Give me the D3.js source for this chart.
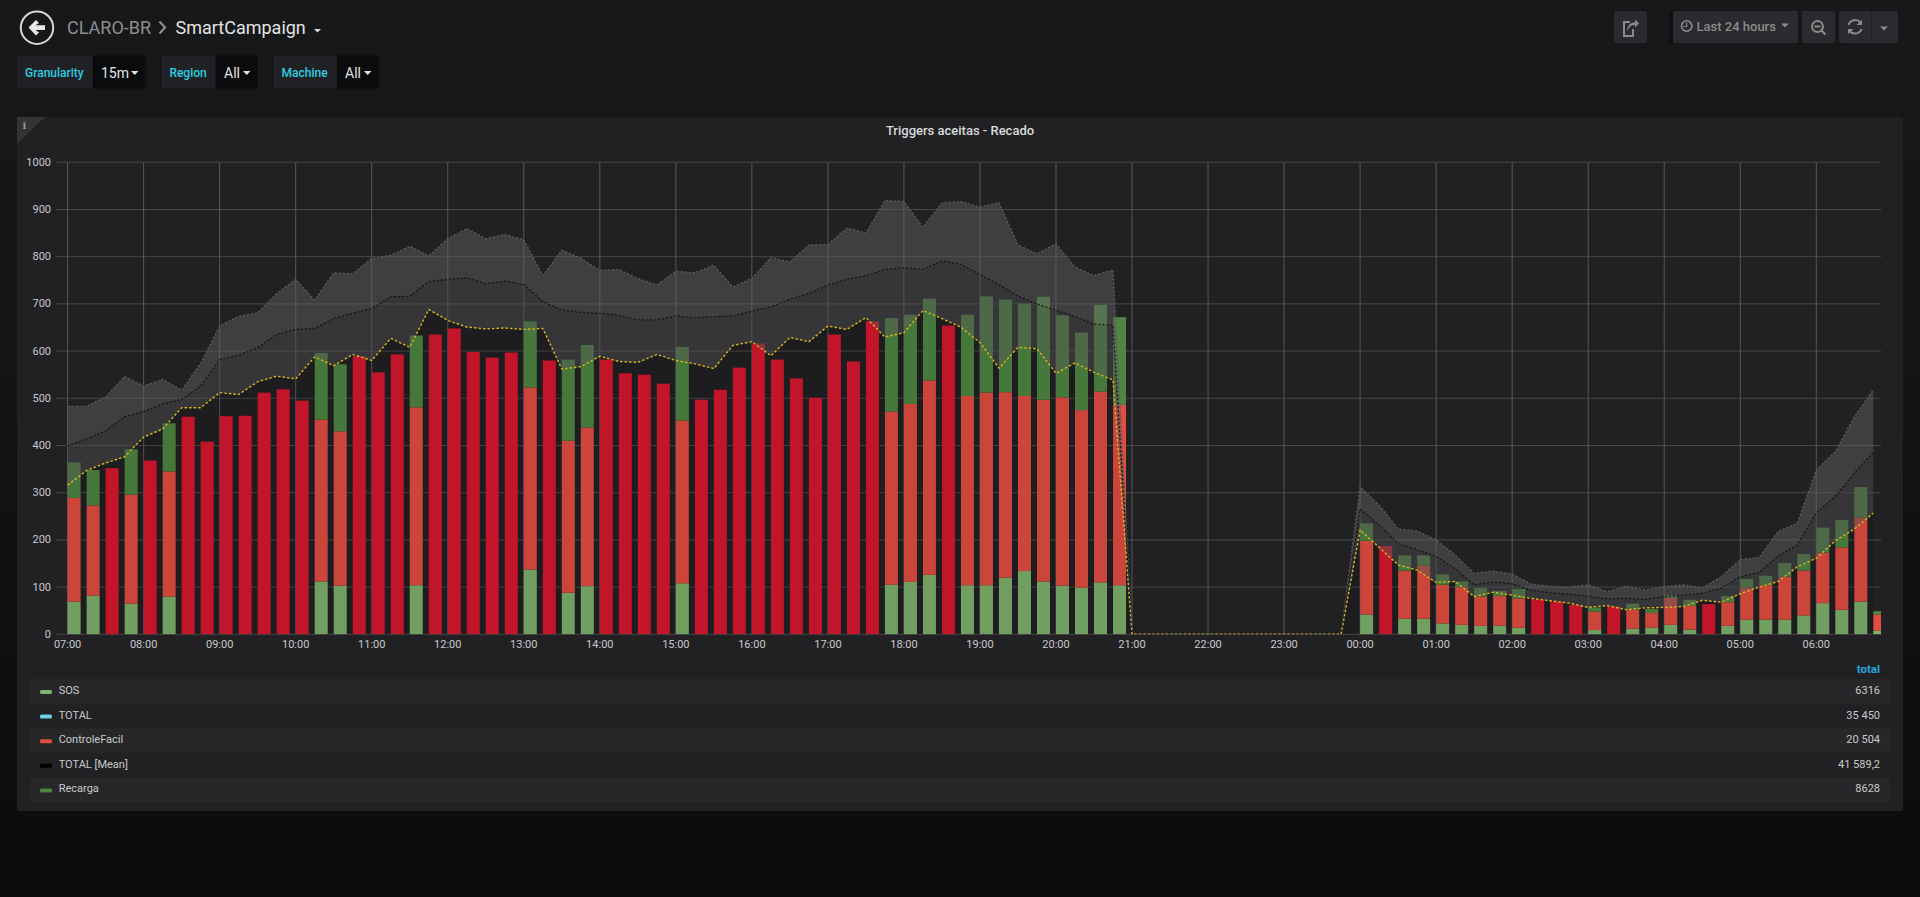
<!DOCTYPE html>
<html><head><meta charset="utf-8">
<script src="https://cdnjs.cloudflare.com/ajax/libs/d3/7.8.5/d3.min.js"></script>
<style>
html,body{margin:0;padding:0;width:1920px;height:897px;overflow:hidden;background:linear-gradient(#17181a 0,#141517 320px,#0c0d0f 800px,#0b0c0e 897px);}
svg{display:block;font-family:Roboto,sans-serif;}
</style></head><body><svg id="c" width="1920" height="897"></svg>
<script>
const sos=[69,82,0,65,0,80,0,0,0,0,
0,0,0,112,103,0,0,0,104,0,
0,0,0,0,137,0,88,102,0,0,
0,0,108,0,0,0,0,0,0,0,
0,0,0,105,111,126,0,104,104,120,
134,112,103,99,110,104,0,0,0,0,
0,0,0,0,0,0,0,0,42,0,
33,33,23,20,18,18,14,0,0,0,
9,0,12,14,20,10,0,18,31,31,
31,40,66,52,69,8];
const controleFacil=[220,191,0,231,0,265,0,0,0,0,
0,0,0,343,327,0,0,0,377,0,
0,0,0,0,386,0,322,336,0,0,
0,0,345,0,0,0,0,0,0,0,
0,0,0,367,377,412,0,401,408,393,
371,385,399,376,404,382,0,0,0,0,
0,0,0,0,0,0,0,0,156,0,
102,112,82,80,62,63,62,0,0,0,
39,0,40,31,57,50,0,50,68,73,
91,95,107,132,178,34];
const recarga=[75,75,0,96,0,102,0,0,0,0,
0,0,0,141,142,0,0,0,152,0,
0,0,0,0,140,0,172,175,0,0,
0,0,156,0,0,0,0,0,0,0,
0,0,0,198,189,173,0,172,204,196,
196,218,174,164,184,186,0,0,0,0,
0,0,0,0,0,0,0,0,37,0,
32,22,22,12,18,11,20,0,0,0,
9,0,13,9,6,13,0,13,18,20,
29,35,53,58,65,7];
const totalBars=[0,0,352,0,368,0,461,408,462,463,
512,519,495,0,0,589,555,593,0,635,
648,598,586,597,0,580,0,0,582,553,
550,531,0,497,518,565,616,582,542,501,
635,578,663,0,0,0,654,0,0,0,
0,0,0,0,0,0,0,0,0,0,
0,0,0,0,0,0,0,0,0,187,
0,0,0,0,0,0,0,74,69,62,
0,59,0,0,0,0,64,0,0,0,
0,0,0,0,0,0];
const lowerBand=[316,347,363,376,418,435,480,480,512,508,
535,547,541,588,569,593,580,627,608,688,
665,651,647,649,646,648,562,567,589,578,
576,593,580,573,563,612,620,590,629,620,
653,646,671,630,639,686,669,651,618,564,
608,605,553,575,555,539,0,0,0,0,
0,0,0,0,0,0,0,0,221,184,
147,136,110,112,80,89,83,76,71,66,
57,61,52,56,57,59,72,68,86,100,
112,143,161,198,223,257];
const meanBand=[399,414,431,461,472,488,498,526,582,591,
607,635,646,648,669,680,690,715,716,747,
752,755,743,748,741,705,687,682,680,676,
666,666,675,670,673,674,685,694,710,722,
740,752,760,773,777,773,791,784,762,741,
716,700,686,673,657,655,0,0,0,0,
0,0,0,0,0,0,0,0,265,232,
192,179,165,139,105,111,107,93,88,85,
81,75,76,74,80,83,87,98,122,131,
166,189,257,292,341,385];
const upperBand=[483,483,503,546,526,540,517,574,653,674,
681,722,752,708,766,764,796,803,822,802,
838,860,838,847,836,760,814,797,771,773,
754,740,769,766,782,736,754,798,789,825,
826,861,850,919,917,862,914,917,905,915,
825,806,827,778,760,772,0,0,0,0,
0,0,0,0,0,0,0,0,312,274,
223,219,200,168,129,134,128,106,102,100,
105,90,102,94,101,105,98,122,158,163,
218,235,348,387,461,518];
const legendNames=["SOS","TOTAL","ControleFacil","TOTAL [Mean]","Recarga"];
const legendColors=["#7EB26D","#6ED0E0","#E24D42","#000000","#508642"];
const legendTotals=["6316","35 450","20 504","41 589,2","8628"];
const yTicks=[0,100,200,300,400,500,600,700,800,900,1000];
const variables=[["Granularity","15m"],["Region","All"],["Machine","All"]];

const svg=d3.select("#c");
const T0=Date.UTC(2018,0,1,7,0), STEP=15*60000;
const times=sos.map((_,i)=>new Date(T0+i*STEP));
const L=56,R=1881,Y0=634.3,Y1=162.3;
const x=d3.scaleUtc().domain([new Date(T0-0.595*STEP),new Date(T0+95.42*STEP)]).range([L+.3,R+.3]);
const y=d3.scaleLinear().domain([0,1000]).range([Y0,Y1]);
const barW=x(new Date(T0+STEP*0.684))-x(new Date(T0));

// header
const hdr=svg.append("g");
hdr.append("circle").attr("cx",37).attr("cy",27.7).attr("r",16.2).attr("fill","none").attr("stroke","#d8d9da").attr("stroke-width",2);
hdr.append("path").attr("d","M28.5 27.5 L36 20 L39 23 L35.5 25.3 L45 25.3 L45 30 L35.5 30 L39 32.6 L36 35.5 Z").attr("fill","#e8e8e8");
hdr.append("text").attr("x",67).attr("y",33.5).attr("font-size",18).attr("fill","#8e8e8e").text("CLARO-BR");
hdr.append("path").attr("d","M159.5 21.5 L165 27.5 L159.5 33.5").attr("fill","none").attr("stroke","#8e8e8e").attr("stroke-width",2.2);
hdr.append("text").attr("x",175.5).attr("y",33.5).attr("font-size",18).attr("fill","#e3e3e3").text("SmartCampaign");
hdr.append("path").attr("d","M314 29 H321 L317.5 32.5 Z").attr("fill","#d8d9da");

// variables
const vx=[[16,93,146,25,101,131],[161,215.5,257.5,169.4,224,243],[273,337,379,281.6,345,364]];
variables.forEach((v,i)=>{
  const p=vx[i],g=svg.append("g");
  g.append("rect").attr("x",p[0]).attr("y",55).attr("width",p[2]-p[0]).attr("height",34).attr("rx",2).attr("fill","#1f2124").attr("stroke","#111214");
  g.append("rect").attr("x",p[1]).attr("y",55.5).attr("width",p[2]-p[1]-.5).attr("height",33).attr("fill","#0a0b0d");
  g.append("text").attr("x",p[3]).attr("y",76.5).attr("font-size",12).attr("font-weight",500).attr("fill","#2ccce2").text(v[0]);
  g.append("text").attr("x",p[4]).attr("y",78).attr("font-size",14).attr("fill","#e3e3e3").text(v[1]);
  g.append("path").attr("d",`M${p[5]} 71 h7.5 l-3.75 4 Z`).attr("fill","#e3e3e3");
});

// toolbar
[[1614,33],[1673,125],[1802,33],[1839,59]].forEach(b=>svg.append("rect").attr("x",b[0]).attr("y",11).attr("width",b[1]).attr("height",32).attr("rx",2).attr("fill","#2a2b2e"));
svg.append("rect").attr("x",1669).attr("y",11).attr("width",4).attr("height",32).attr("fill","#0f1012");
svg.append("rect").attr("x",1871).attr("y",11).attr("width",1).attr("height",32).attr("fill","#222326");
const ic="#8a8a8a";
svg.append("path").attr("d","M1633 29 V36 H1624 V22 H1630").attr("fill","none").attr("stroke",ic).attr("stroke-width",2);
svg.append("path").attr("d","M1627 31 C1627 25 1631 22.5 1635 22.5 V19.5 L1639 23.5 L1635 27.5 V25 C1631 25 1629 27 1627 31 Z").attr("fill",ic);
svg.append("circle").attr("cx",1686.7).attr("cy",26).attr("r",5.2).attr("fill","none").attr("stroke",ic).attr("stroke-width",1.6);
svg.append("path").attr("d","M1686.7 22.5 V26.5 H1683.5").attr("fill","none").attr("stroke",ic).attr("stroke-width",1.2);
svg.append("text").attr("x",1696.5).attr("y",31).attr("font-size",13).attr("font-weight",500).attr("fill",ic).text("Last 24 hours");
svg.append("path").attr("d","M1781 23.5 h8 l-4 4 Z").attr("fill",ic);
svg.append("circle").attr("cx",1817.5).attr("cy",26.5).attr("r",5.5).attr("fill","none").attr("stroke",ic).attr("stroke-width",2);
svg.append("path").attr("d","M1821.5 30.5 L1825.5 34.5 M1814.5 26.5 H1820.5").attr("fill","none").attr("stroke",ic).attr("stroke-width",2);
svg.append("path").attr("d","M1848.5 25 A7 7 0 0 1 1860.5 22.5 M1861.5 29 A7 7 0 0 1 1849.5 31").attr("fill","none").attr("stroke",ic).attr("stroke-width",2);
svg.append("path").attr("d","M1862 19.5 V25 H1856.5 Z M1848 34 V29 H1853.5 Z").attr("fill",ic);
svg.append("path").attr("d","M1880 26.5 h8 l-4 4 Z").attr("fill",ic);

// panel
svg.append("rect").attr("x",17).attr("y",116.7).attr("width",1886).attr("height",694.3).attr("rx",2).attr("fill","#212124");
svg.append("path").attr("d","M17 117 H45 L17 144 Z").attr("fill","#343436");
svg.append("text").attr("x",24.5).attr("y",129).attr("text-anchor","middle").attr("font-family","'DejaVu Serif',serif").attr("font-size",10).attr("font-weight",700).attr("fill","#9a9a9c").text("i");
svg.append("text").attr("x",960).attr("y",134.5).attr("text-anchor","middle").attr("font-size",13).attr("font-weight",500).attr("fill","#d8d9da").text("Triggers aceitas - Recado");

// grid + axes
const yAxis=svg.append("g").attr("transform",`translate(${L},0)`).call(d3.axisLeft(y).offset(0).tickValues(yTicks).tickSize(-(R-L)).tickPadding(5).tickFormat(d3.format("d")));
const xAxis=svg.append("g").attr("transform",`translate(0,${Y0})`).call(d3.axisBottom(x).offset(0).ticks(d3.utcHour.every(1)).tickSize(-(Y0-Y1)).tickPadding(6).tickFormat(d3.utcFormat("%H:%M")));
yAxis.select(".domain").remove(); xAxis.select(".domain").remove();
yAxis.selectAll("line").attr("stroke","#47474a");
xAxis.selectAll("line").attr("stroke","#58585b");
[yAxis,xAxis].forEach(a=>a.selectAll("text").attr("fill","#c8c9ca").attr("font-size",11).attr("font-family","Roboto"));

// clip
svg.append("clipPath").attr("id","plot").append("rect").attr("x",L).attr("y",Y1).attr("width",R-L).attr("height",Y0-Y1);
const plot=svg.append("g").attr("clip-path","url(#plot)");

// stacked bars
const rows=times.map((t,i)=>({t,sos:sos[i],controleFacil:controleFacil[i],recarga:recarga[i]}));
const stack=d3.stack().keys(["sos","controleFacil","recarga"])(rows);
const barColor={sos:"#7EB26D",controleFacil:"#E24D42",recarga:"#508642"};
stack.forEach(s=>{
  plot.append("g").selectAll("rect").data(s.filter(d=>d[1]>d[0])).join("rect")
    .attr("x",d=>x(d.data.t)).attr("width",barW)
    .attr("y",d=>y(d[1])).attr("height",d=>y(d[0])-y(d[1]))
    .attr("fill",barColor[s.key]);
});
plot.append("g").selectAll("rect").data(times.map((t,i)=>({t,v:totalBars[i]})).filter(d=>d.v>0)).join("rect")
  .attr("x",d=>x(d.t)).attr("width",barW).attr("y",d=>y(d.v)).attr("height",d=>Y0-y(d.v)).attr("fill","#D9182E");

// bands
const idx=d3.range(times.length);
const band=(lo,hi)=>d3.area().x(i=>x(times[i])).y0(i=>y(lo?lo[i]:0)).y1(i=>y(hi[i]));
plot.append("path").attr("d",band(null,lowerBand)(idx)).attr("fill","#000").attr("fill-opacity",.1);
plot.append("path").attr("d",band(lowerBand,meanBand)(idx)).attr("fill","#4b4b4b").attr("fill-opacity",.5);
plot.append("path").attr("d",band(meanBand,upperBand)(idx)).attr("fill","#5d5d5d").attr("fill-opacity",.5);
const line=a=>d3.line().x(i=>x(times[i])).y(i=>y(a[i]))(idx);
plot.append("path").attr("d",line(upperBand)).attr("fill","none").attr("stroke","#5c5c5e").attr("stroke-width",1.3).attr("stroke-dasharray","2 2");
plot.append("path").attr("d",line(meanBand)).attr("fill","none").attr("stroke","#141414").attr("stroke-width",1.3).attr("stroke-dasharray","2 2");
plot.append("path").attr("d",line(lowerBand)).attr("fill","none").attr("stroke","#d4b61e").attr("stroke-width",1.4).attr("stroke-dasharray","2.5 2");

// legend
svg.append("text").attr("x",1880).attr("y",673).attr("text-anchor","end").attr("font-size",11.5).attr("font-weight",700).attr("fill","#2aa4dc").text("total");
const rowY=d3.scaleBand().domain(legendNames).range([679,802]);
const lg=svg.append("g").selectAll("g").data(legendNames).join("g").attr("transform",n=>`translate(0,${rowY(n)})`);
lg.filter((_,i)=>i%2==0).append("rect").attr("x",30).attr("width",1860).attr("height",rowY.bandwidth()).attr("fill","#272729");
lg.append("rect").attr("x",40).attr("y",11).attr("width",12).attr("height",4).attr("rx",1.5).attr("fill",(_,i)=>legendColors[i]);
lg.append("text").attr("x",58.7).attr("y",15).attr("font-size",11).attr("fill","#c8c9ca").text(n=>n);
lg.append("text").attr("x",1880).attr("y",15).attr("text-anchor","end").attr("font-size",11).attr("fill","#c8c9ca").text((_,i)=>legendTotals[i]);
</script></body></html>
